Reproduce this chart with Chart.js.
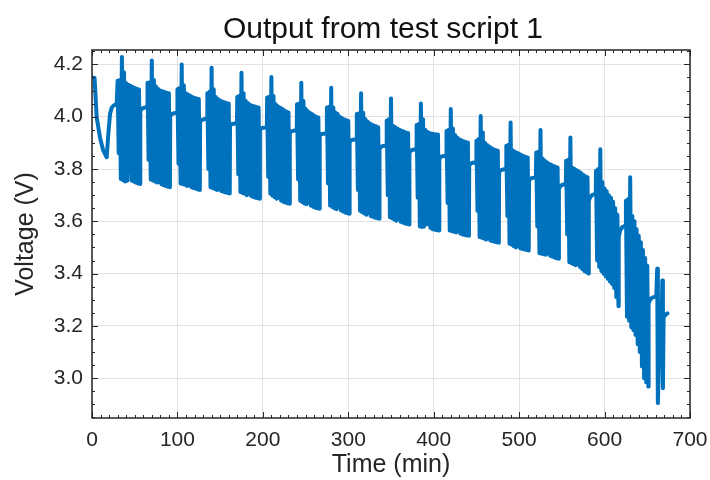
<!DOCTYPE html>
<html>
<head>
<meta charset="utf-8">
<script src="https://cdn.jsdelivr.net/npm/chart.js@4.4.1/dist/chart.umd.min.js"></script>
<style>
  html, body { margin: 0; padding: 0; background: #ffffff; }
  #wrap { width: 710px; height: 480px; }
</style>
</head>
<body>
<div id="wrap"><canvas id="chart" width="710" height="480"></canvas></div>
<script>
// Pulse-discharge test: cell voltage (V) against time (min).

// Opening rest, first load step and recovery
const warmupTime = [0, 3.0, 3.8, 5.5, 9.4, 13.2, 17.2, 19.1, 21.1, 23.1, 25.5, 28.9];
const warmupVolt = [4.15, 4.148, 4.10, 3.997, 3.92, 3.87, 3.845, 3.933, 4.01, 4.035, 4.043, 4.049];

// Start time (min) of each pulse train
const pulseStart = [30, 65, 100, 135, 170, 205, 240, 275, 310, 345, 380, 415, 450, 485, 520, 555, 590, 625];
// Minutes between a pulse peak and the following trough
const pulseHalfStep = 1.25;

// Peak voltage of every pulse in each train
const pulseHigh = [
  [4.137, 4.140, 4.228, 4.170, 4.128, 4.122, 4.118, 4.114, 4.110, 4.107, 4.104],
  [4.130, 4.132, 4.215, 4.140, 4.115, 4.106, 4.100, 4.097, 4.094, 4.092, 4.090],
  [4.105, 4.110, 4.200, 4.120, 4.090, 4.085, 4.080, 4.075, 4.072, 4.070, 4.068],
  [4.090, 4.095, 4.187, 4.105, 4.075, 4.068, 4.062, 4.058, 4.055, 4.052, 4.050],
  [4.075, 4.080, 4.168, 4.090, 4.060, 4.052, 4.046, 4.042, 4.040, 4.037, 4.035],
  [4.073, 4.076, 4.152, 4.079, 4.048, 4.040, 4.035, 4.030, 4.025, 4.020, 4.016],
  [4.048, 4.050, 4.130, 4.060, 4.030, 4.022, 4.015, 4.010, 4.005, 4.000, 3.997],
  [4.035, 4.038, 4.111, 4.035, 4.016, 4.010, 4.000, 3.995, 3.990, 3.987, 3.984],
  [4.010, 4.013, 4.090, 4.015, 3.990, 3.982, 3.975, 3.970, 3.966, 3.963, 3.960],
  [3.985, 3.990, 4.070, 3.965, 3.960, 3.955, 3.950, 3.946, 3.943, 3.940, 3.938],
  [3.968, 3.972, 4.050, 3.990, 3.950, 3.942, 3.938, 3.936, 3.934, 3.933, 3.932],
  [3.945, 3.950, 4.029, 3.955, 3.930, 3.920, 3.914, 3.910, 3.906, 3.903, 3.901],
  [3.908, 3.915, 4.003, 3.940, 3.900, 3.892, 3.886, 3.880, 3.876, 3.873, 3.870],
  [3.889, 3.893, 3.978, 3.872, 3.866, 3.862, 3.858, 3.854, 3.850, 3.847, 3.844],
  [3.863, 3.866, 3.949, 3.840, 3.832, 3.826, 3.820, 3.816, 3.812, 3.809, 3.806],
  [3.832, 3.835, 3.920, 3.805, 3.800, 3.795, 3.790, 3.785, 3.778, 3.772, 3.768],
  [3.793, 3.800, 3.876, 3.750, 3.725, 3.715, 3.700, 3.690, 3.675, 3.650, 3.625],
  [3.679, 3.685, 3.768, 3.620, 3.600, 3.570, 3.545, 3.520, 3.490, 3.460, 3.430]
];

// Trough voltage of every pulse in each train
const pulseLow = [
  [3.860, 3.762, 3.757, 3.752, 3.755, 3.790, 3.756, 3.752, 3.748, 3.745, 3.743],
  [3.835, 3.760, 3.756, 3.752, 3.748, 3.750, 3.742, 3.738, 3.735, 3.732, 3.730],
  [3.820, 3.745, 3.742, 3.740, 3.735, 3.738, 3.730, 3.727, 3.725, 3.722, 3.720],
  [3.800, 3.730, 3.727, 3.724, 3.720, 3.722, 3.716, 3.713, 3.710, 3.708, 3.706],
  [3.780, 3.712, 3.708, 3.705, 3.700, 3.705, 3.697, 3.693, 3.690, 3.688, 3.686],
  [3.770, 3.705, 3.698, 3.692, 3.686, 3.690, 3.680, 3.675, 3.672, 3.669, 3.667],
  [3.760, 3.679, 3.673, 3.668, 3.665, 3.672, 3.660, 3.656, 3.652, 3.650, 3.648],
  [3.745, 3.660, 3.655, 3.650, 3.646, 3.655, 3.642, 3.638, 3.634, 3.631, 3.629],
  [3.720, 3.640, 3.635, 3.630, 3.625, 3.632, 3.620, 3.617, 3.614, 3.612, 3.610],
  [3.700, 3.616, 3.612, 3.607, 3.602, 3.610, 3.598, 3.595, 3.592, 3.590, 3.588],
  [3.690, 3.580, 3.578, 3.580, 3.590, 3.588, 3.575, 3.570, 3.568, 3.566, 3.565],
  [3.670, 3.565, 3.562, 3.560, 3.557, 3.562, 3.553, 3.550, 3.548, 3.546, 3.545],
  [3.640, 3.540, 3.537, 3.534, 3.530, 3.535, 3.527, 3.524, 3.522, 3.520, 3.518],
  [3.620, 3.514, 3.510, 3.505, 3.500, 3.506, 3.497, 3.494, 3.492, 3.490, 3.488],
  [3.580, 3.478, 3.476, 3.474, 3.472, 3.478, 3.468, 3.465, 3.462, 3.459, 3.457],
  [3.550, 3.444, 3.440, 3.436, 3.432, 3.436, 3.425, 3.418, 3.410, 3.405, 3.400],
  [3.450, 3.425, 3.410, 3.400, 3.390, 3.380, 3.370, 3.360, 3.345, 3.310, 3.275],
  [3.235, 3.220, 3.195, 3.184, 3.165, 3.130, 3.100, 3.045, 3.000, 2.985, 2.968]
];

// Relaxation after each pulse train
const restTime = [
  [56.55, 58.25, 60.75, 64.7],
  [91.55, 93.25, 95.75, 99.7],
  [126.55, 128.25, 130.75, 134.7],
  [161.55, 163.25, 165.75, 169.7],
  [196.55, 198.25, 200.75, 204.7],
  [231.55, 233.25, 235.75, 239.7],
  [266.55, 268.25, 270.75, 274.7],
  [301.55, 303.25, 305.75, 309.7],
  [336.55, 338.25, 340.75, 344.7],
  [371.55, 373.25, 375.75, 379.7],
  [406.55, 408.25, 410.75, 414.7],
  [441.55, 443.25, 445.75, 449.7],
  [476.55, 478.25, 480.75, 484.7],
  [511.55, 513.25, 515.75, 519.7],
  [546.55, 548.25, 550.75, 554.7],
  [581.55, 583.25, 585.75, 589.7],
  [616.55, 618.25, 620.75, 624.7],
  [651.55, 653.25, 655.75, 660.5]
];
const restVolt = [
  [4.022, 4.030, 4.034, 4.036],
  [4.003, 4.010, 4.013, 4.015],
  [3.980, 3.987, 3.990, 3.992],
  [3.965, 3.971, 3.973, 3.975],
  [3.950, 3.956, 3.958, 3.960],
  [3.938, 3.944, 3.946, 3.948],
  [3.926, 3.933, 3.935, 3.937],
  [3.902, 3.909, 3.912, 3.914],
  [3.877, 3.885, 3.888, 3.890],
  [3.862, 3.870, 3.874, 3.876],
  [3.838, 3.846, 3.849, 3.851],
  [3.813, 3.821, 3.824, 3.826],
  [3.787, 3.795, 3.798, 3.800],
  [3.755, 3.763, 3.766, 3.768],
  [3.724, 3.735, 3.740, 3.743],
  [3.679, 3.693, 3.701, 3.705],
  [3.542, 3.565, 3.578, 3.584],
  [3.286, 3.300, 3.308, 3.313]
];

// Last, shortened pulse train and end of test
const finalTime = [661.6, 662.4, 665.2, 665.9, 667.6, 668.3, 669.1, 671.2, 673.6];
const finalVolt = [3.419, 2.905, 3.273, 3.058, 3.374, 2.962, 3.233, 3.242, 3.248];

// Axis ticks
const xTickValues = [0, 100, 200, 300, 400, 500, 600, 700];
const yTickValues = [3.0, 3.2, 3.4, 3.6, 3.8, 4.0, 4.2];
const xMinorStep = 10;
const yMinorStep = 0.05;

// Assemble the trace in time order
const trace = [];
warmupTime.forEach((t, i) => trace.push({ x: t, y: warmupVolt[i] }));
pulseStart.forEach((start, k) => {
  pulseHigh[k].forEach((hi, i) => {
    trace.push({ x: start + 2 * i * pulseHalfStep, y: hi });
    trace.push({ x: start + (2 * i + 1) * pulseHalfStep, y: pulseLow[k][i] });
  });
  restTime[k].forEach((t, i) => trace.push({ x: t, y: restVolt[k][i] }));
});
finalTime.forEach((t, i) => trace.push({ x: t, y: finalVolt[i] }));

const FONT = "'Liberation Sans', Arial, Helvetica, sans-serif";
const INK = '#262626';
const TITLE = 'Output from test script 1';

// Axes box with inward major/minor tick marks on all four sides, plus the title
const boxTicks = {
  id: 'boxTicks',
  afterDatasetsDraw(chart) {
    const { ctx, chartArea: a, scales: { x, y } } = chart;
    ctx.save();
    ctx.strokeStyle = INK;
    ctx.lineWidth = 1;
    ctx.beginPath();
    const mark = (px, py, dx, dy) => { ctx.moveTo(px, py); ctx.lineTo(px + dx, py + dy); };
    for (let v = x.min; v <= x.max + 1e-9; v += xMinorStep) {
      const px = Math.round(x.getPixelForValue(v)) + 0.5;
      const len = xTickValues.some(t => Math.abs(t - v) < 1e-6) ? 6 : 3;
      mark(px, a.bottom, 0, -len);
      mark(px, a.top, 0, len);
    }
    const first = Math.ceil(y.min / yMinorStep - 1e-9);
    for (let n = first; n * yMinorStep <= y.max + 1e-9; n++) {
      const v = n * yMinorStep;
      const py = Math.round(y.getPixelForValue(v)) + 0.5;
      const len = yTickValues.some(t => Math.abs(t - v) < 1e-6) ? 6 : 3;
      mark(a.left, py, len, 0);
      mark(a.right, py, -len, 0);
    }
    ctx.stroke();
    ctx.lineWidth = 1.5;
    ctx.strokeRect(a.left, a.top, a.right - a.left, a.bottom - a.top);

    ctx.fillStyle = '#111111';
    ctx.font = '30px ' + FONT;
    ctx.textAlign = 'center';
    ctx.textBaseline = 'alphabetic';
    ctx.fillText(TITLE, 383, 38);
    ctx.restore();
  }
};

new Chart(document.getElementById('chart'), {
  type: 'line',
  data: {
    datasets: [{
      data: trace,
      borderColor: '#0072BD',
      borderWidth: 4,
      pointRadius: 0,
      tension: 0,
      fill: false,
      borderJoinStyle: 'round',
      borderCapStyle: 'round'
    }]
  },
  options: {
    responsive: false,
    animation: false,
    devicePixelRatio: 1,
    events: [],
    layout: { padding: { left: 0, right: 20, top: 50, bottom: 0 } },
    plugins: {
      legend: { display: false },
      tooltip: { enabled: false },
      title: { display: false }
    },
    scales: {
      x: {
        type: 'linear',
        min: 0,
        max: 700,
        afterBuildTicks: s => { s.ticks = xTickValues.map(v => ({ value: v })); },
        afterFit: s => { s.height = 62; s.paddingLeft = 0; s.paddingRight = 0; },
        border: { display: false },
        grid: { color: '#e1e1e1', lineWidth: 1, drawTicks: false },
        ticks: { color: INK, padding: 10, maxRotation: 0, font: { family: FONT, size: 21 } },
        title: { display: true, text: 'Time (min)', color: INK, padding: { top: 0, bottom: 0 }, font: { family: FONT, size: 25, lineHeight: 1.2 } }
      },
      y: {
        type: 'linear',
        min: 2.848,
        max: 4.255,
        afterBuildTicks: s => { s.ticks = yTickValues.map(v => ({ value: v })); },
        afterFit: s => { s.width = 92; s.paddingTop = 0; s.paddingBottom = 0; },
        border: { display: false },
        grid: { color: '#e1e1e1', lineWidth: 1, drawTicks: false },
        ticks: { color: INK, padding: 9, callback: v => v.toFixed(1), font: { family: FONT, size: 21 } },
        title: { display: true, text: 'Voltage (V)', color: INK, padding: { top: 11, bottom: 0 }, font: { family: FONT, size: 25, lineHeight: 1.2 } }
      }
    }
  },
  plugins: [boxTicks]
});
</script>
</body>
</html>
